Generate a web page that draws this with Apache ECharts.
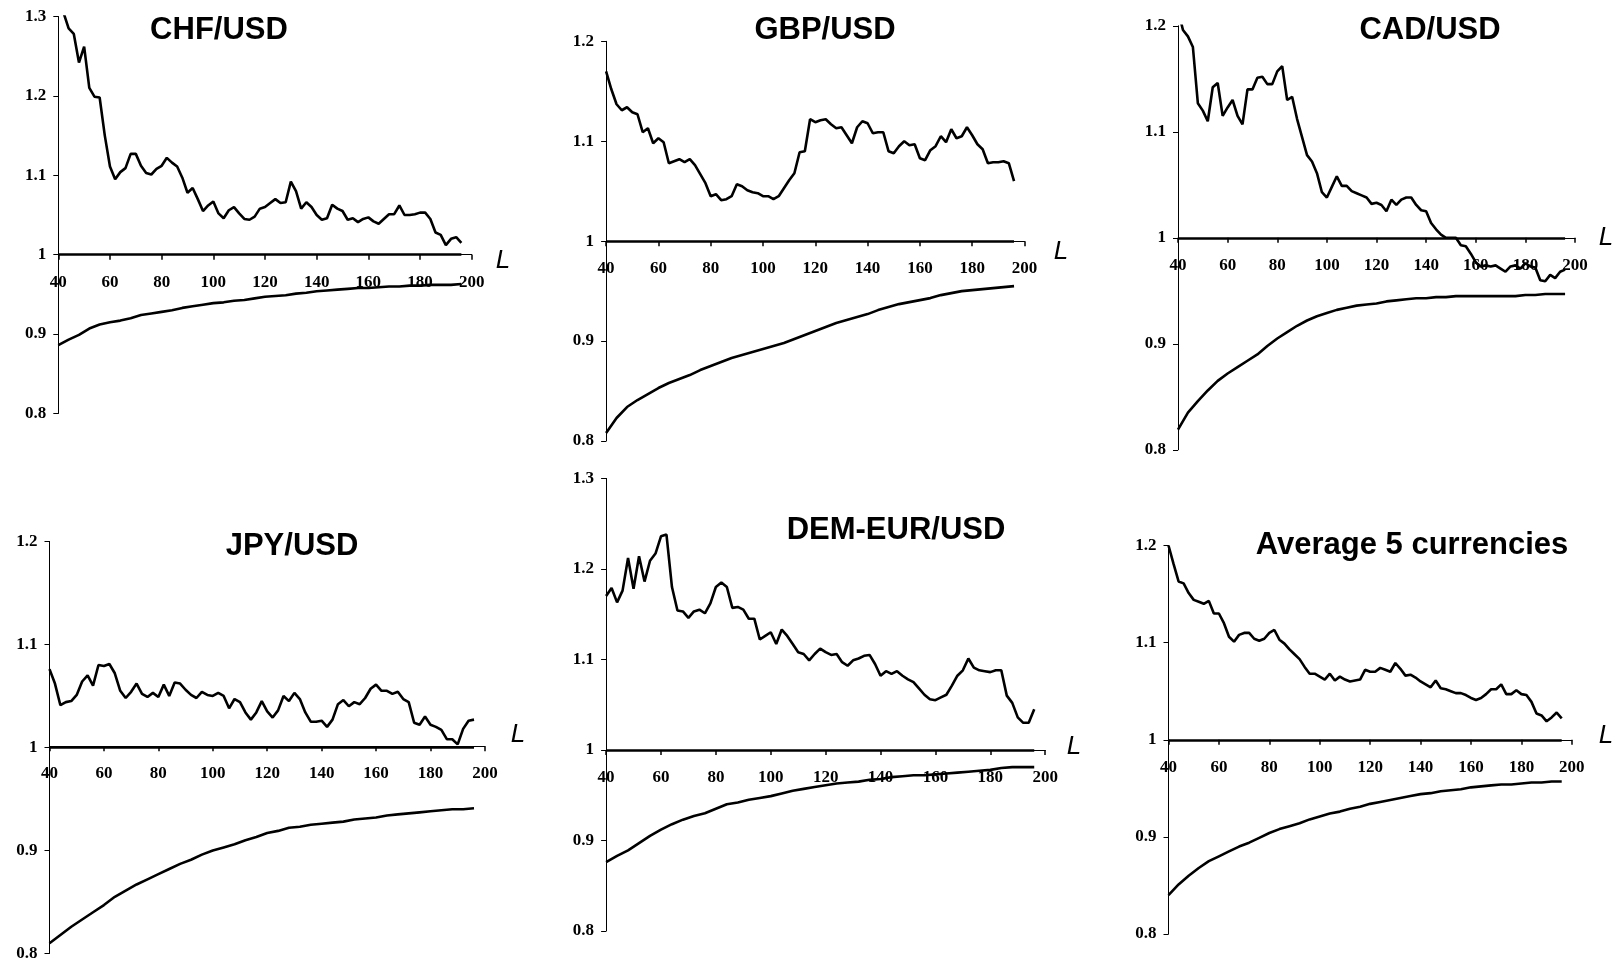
<!DOCTYPE html>
<html>
<head>
<meta charset="utf-8">
<title>Currencies vs L</title>
<script src="https://cdn.jsdelivr.net/npm/echarts@6/dist/echarts.min.js"></script>
<style>
  html, body { margin: 0; padding: 0; background: #fff; }
  #chart { width: 1620px; height: 962px; }
</style>
</head>
<body>
<div id="chart"></div>
<script>
// L values (x axis)
const lagsNoisy = [40, 42, 44, 46, 48, 50, 52, 54, 56, 58, 60, 62, 64, 66, 68, 70, 72, 74, 76, 78,
  80, 82, 84, 86, 88, 90, 92, 94, 96, 98, 100, 102, 104, 106, 108, 110, 112, 114, 116, 118,
  120, 122, 124, 126, 128, 130, 132, 134, 136, 138, 140, 142, 144, 146, 148, 150, 152, 154, 156, 158,
  160, 162, 164, 166, 168, 170, 172, 174, 176, 178, 180, 182, 184, 186, 188, 190, 192, 194, 196];
const lagsSmooth = [40, 44, 48, 52, 56, 60, 64, 68, 72, 76, 80, 84, 88, 92, 96, 100, 104, 108, 112, 116,
  120, 124, 128, 132, 136, 140, 144, 148, 152, 156, 160, 164, 168, 172, 176, 180, 184, 188, 192, 196];
const unityLevel = 1;

const chfUpper = [1.34, 1.305, 1.285, 1.278, 1.242, 1.262, 1.21, 1.199, 1.198, 1.15,
  1.111, 1.095, 1.104, 1.109, 1.127, 1.127, 1.112, 1.103, 1.101, 1.108,
  1.112, 1.122, 1.116, 1.111, 1.097, 1.078, 1.084, 1.07, 1.055, 1.062,
  1.067, 1.052, 1.046, 1.056, 1.06, 1.052, 1.045, 1.044, 1.048, 1.058,
  1.06, 1.065, 1.07, 1.065, 1.066, 1.092, 1.08, 1.058, 1.066, 1.06,
  1.05, 1.044, 1.046, 1.063, 1.058, 1.055, 1.044, 1.046, 1.041, 1.045,
  1.047, 1.042, 1.039, 1.045, 1.051, 1.051, 1.062, 1.05, 1.05, 1.051,
  1.053, 1.053, 1.045, 1.028, 1.025, 1.012, 1.02, 1.022, 1.015];
const chfLower = [0.886, 0.893, 0.899, 0.907, 0.912, 0.915, 0.917, 0.920, 0.924, 0.926,
  0.928, 0.930, 0.933, 0.935, 0.937, 0.939, 0.940, 0.942, 0.943, 0.945,
  0.947, 0.948, 0.949, 0.951, 0.952, 0.954, 0.955, 0.956, 0.957, 0.958,
  0.958, 0.959, 0.960, 0.960, 0.961, 0.961, 0.962, 0.962, 0.962, 0.963];

const gbpUpper = [1.17, 1.152, 1.137, 1.131, 1.134, 1.129, 1.127, 1.109, 1.113, 1.098,
  1.103, 1.099, 1.078, 1.08, 1.082, 1.079, 1.082, 1.076, 1.067, 1.058,
  1.045, 1.047, 1.041, 1.042, 1.045, 1.057, 1.055, 1.051, 1.049, 1.048,
  1.045, 1.045, 1.042, 1.045, 1.053, 1.061, 1.068, 1.089, 1.09, 1.122,
  1.119, 1.121, 1.122, 1.117, 1.113, 1.114, 1.106, 1.098, 1.114, 1.12,
  1.118, 1.108, 1.109, 1.109, 1.09, 1.088, 1.095, 1.1, 1.096, 1.097,
  1.083, 1.081, 1.091, 1.095, 1.105, 1.099, 1.112, 1.103, 1.105, 1.114,
  1.106, 1.097, 1.092, 1.078, 1.079, 1.079, 1.08, 1.078, 1.06];
const gbpLower = [0.808, 0.823, 0.834, 0.841, 0.847, 0.853, 0.858, 0.862, 0.866, 0.871,
  0.875, 0.879, 0.883, 0.886, 0.889, 0.892, 0.895, 0.898, 0.902, 0.906,
  0.910, 0.914, 0.918, 0.921, 0.924, 0.927, 0.931, 0.934, 0.937, 0.939,
  0.941, 0.943, 0.946, 0.948, 0.950, 0.951, 0.952, 0.953, 0.954, 0.955];

const cadUpper = [1.215, 1.196, 1.19, 1.18, 1.127, 1.12, 1.11, 1.142, 1.146, 1.115,
  1.123, 1.13, 1.115, 1.107, 1.14, 1.14, 1.151, 1.152, 1.145, 1.145,
  1.157, 1.162, 1.13, 1.133, 1.112, 1.095, 1.078, 1.072, 1.061, 1.043,
  1.038, 1.048, 1.058, 1.049, 1.049, 1.044, 1.042, 1.04, 1.038, 1.032,
  1.033, 1.031, 1.025, 1.036, 1.031, 1.036, 1.038, 1.038, 1.031, 1.026,
  1.025, 1.014, 1.008, 1.003, 1.0, 1.0, 1.0, 0.993, 0.992, 0.985,
  0.977, 0.973, 0.974, 0.973, 0.974, 0.971, 0.968, 0.973, 0.974, 0.971,
  0.976, 0.973, 0.972, 0.96, 0.959, 0.965, 0.962, 0.968, 0.97];
const cadLower = [0.819, 0.835, 0.846, 0.856, 0.865, 0.872, 0.878, 0.884, 0.890, 0.898,
  0.905, 0.911, 0.917, 0.922, 0.926, 0.929, 0.932, 0.934, 0.936, 0.937,
  0.938, 0.940, 0.941, 0.942, 0.943, 0.943, 0.944, 0.944, 0.945, 0.945,
  0.945, 0.945, 0.945, 0.945, 0.945, 0.946, 0.946, 0.947, 0.947, 0.947];

const jpyUpper = [1.076, 1.062, 1.041, 1.044, 1.045, 1.051, 1.064, 1.07, 1.06, 1.08,
  1.079, 1.081, 1.072, 1.055, 1.048, 1.054, 1.062, 1.052, 1.049, 1.053,
  1.049, 1.061, 1.05, 1.063, 1.062, 1.056, 1.051, 1.048, 1.054, 1.051,
  1.05, 1.053, 1.05, 1.038, 1.047, 1.044, 1.034, 1.027, 1.034, 1.045,
  1.035, 1.029, 1.036, 1.05, 1.045, 1.053, 1.047, 1.034, 1.025, 1.025,
  1.026, 1.02, 1.027, 1.042, 1.046, 1.04, 1.044, 1.042, 1.048, 1.057,
  1.061, 1.055, 1.055, 1.052, 1.054, 1.047, 1.044, 1.024, 1.022, 1.03,
  1.022, 1.02, 1.017, 1.008, 1.008, 1.003, 1.018, 1.026, 1.027];
const jpyLower = [0.810, 0.818, 0.826, 0.833, 0.840, 0.847, 0.855, 0.861, 0.867, 0.872,
  0.877, 0.882, 0.887, 0.891, 0.896, 0.900, 0.903, 0.906, 0.910, 0.913,
  0.917, 0.919, 0.922, 0.923, 0.925, 0.926, 0.927, 0.928, 0.930, 0.931,
  0.932, 0.934, 0.935, 0.936, 0.937, 0.938, 0.939, 0.940, 0.940, 0.941];

const demUpper = [1.17, 1.179, 1.163, 1.176, 1.212, 1.178, 1.214, 1.186, 1.209, 1.217,
  1.236, 1.238, 1.18, 1.154, 1.153, 1.146, 1.153, 1.155, 1.151, 1.162,
  1.18, 1.185, 1.18, 1.157, 1.158, 1.155, 1.145, 1.145, 1.122, 1.126,
  1.13, 1.117, 1.133, 1.126, 1.117, 1.108, 1.106, 1.099, 1.106, 1.112,
  1.108, 1.105, 1.106, 1.097, 1.093, 1.099, 1.101, 1.104, 1.105, 1.095,
  1.082, 1.087, 1.084, 1.087, 1.082, 1.078, 1.075, 1.068, 1.061, 1.056,
  1.055, 1.058, 1.061, 1.071, 1.082, 1.088, 1.101, 1.091, 1.088, 1.087,
  1.086, 1.088, 1.088, 1.06, 1.052, 1.036, 1.03, 1.03, 1.045];
const demLower = [0.876, 0.883, 0.889, 0.897, 0.905, 0.912, 0.918, 0.923, 0.927, 0.930,
  0.935, 0.940, 0.942, 0.945, 0.947, 0.949, 0.952, 0.955, 0.957, 0.959,
  0.961, 0.963, 0.964, 0.965, 0.967, 0.968, 0.970, 0.971, 0.972, 0.972,
  0.973, 0.974, 0.975, 0.976, 0.977, 0.978, 0.980, 0.981, 0.981, 0.981];

const avgUpper = [1.2, 1.181, 1.163, 1.161, 1.151, 1.144, 1.142, 1.14, 1.143, 1.13,
  1.13, 1.12, 1.106, 1.101, 1.108, 1.11, 1.11, 1.104, 1.102, 1.104,
  1.11, 1.113, 1.103, 1.099, 1.093, 1.088, 1.083, 1.075, 1.068, 1.068,
  1.065, 1.062, 1.068, 1.061, 1.065, 1.062, 1.06, 1.061, 1.062, 1.072,
  1.07, 1.07, 1.074, 1.072, 1.07, 1.079, 1.073, 1.066, 1.067, 1.064,
  1.06, 1.057, 1.054, 1.061, 1.053, 1.052, 1.05, 1.048, 1.048, 1.046,
  1.043, 1.041, 1.043, 1.047, 1.052, 1.052, 1.057, 1.047, 1.047, 1.051,
  1.047, 1.046, 1.039, 1.027, 1.025, 1.019, 1.023, 1.028, 1.022];
const avgLower = [0.840, 0.851, 0.860, 0.868, 0.875, 0.880, 0.885, 0.890, 0.894, 0.899,
  0.904, 0.908, 0.911, 0.914, 0.918, 0.921, 0.924, 0.926, 0.929, 0.931,
  0.934, 0.936, 0.938, 0.940, 0.942, 0.944, 0.945, 0.947, 0.948, 0.949,
  0.951, 0.952, 0.953, 0.954, 0.954, 0.955, 0.956, 0.956, 0.957, 0.957];

const panelNames = ["CHF/USD", "GBP/USD", "CAD/USD", "JPY/USD", "DEM-EUR/USD", "Average 5 currencies"];
const upperSeries = [chfUpper, gbpUpper, cadUpper, jpyUpper, demUpper, avgUpper];
const lowerSeries = [chfLower, gbpLower, cadLower, jpyLower, demLower, avgLower];
const yMin = [0.8, 0.8, 0.8, 0.8, 0.8, 0.8];
const yMax = [1.3, 1.2, 1.2, 1.2, 1.3, 1.2];

// layout of each panel (pixels); nameX/nameY = centre of the "L" label
const layout = [
  { left: 58.3, top: 16.5, width: 413.4, height: 397, titleX: 219, titleY: 28, nameX: 503, nameY: 261 },
  { left: 606.1, top: 41.3, width: 418.4, height: 399.7, titleX: 825, titleY: 28, nameX: 1061, nameY: 252 },
  { left: 1178, top: 25.8, width: 397, height: 424, titleX: 1430, titleY: 28, nameX: 1606, nameY: 238 },
  { left: 49.5, top: 541.4, width: 435.4, height: 414.3, titleX: 292, titleY: 544, nameX: 518, nameY: 735 },
  { left: 606.1, top: 478.4, width: 439.1, height: 452.6, titleX: 896, titleY: 528, nameX: 1074, nameY: 747 },
  { left: 1168.5, top: 545.5, width: 403.3, height: 388.5, titleX: 1412, titleY: 543, nameX: 1606, nameY: 736 },
];

const tickFont = {
  fontFamily: "Liberation Serif",
  fontWeight: "bold",
  fontSize: 17,
  color: "#000",
};

function pairs(xs, ys) {
  return xs.map((x, i) => [x, ys[i]]);
}

const chart = echarts.init(document.getElementById("chart"));

const grid = [];
const xAxis = [];
const yAxis = [];
const title = [];
const series = [];
const graphic = [];

layout.forEach((p, i) => {
  grid.push({ left: p.left, top: p.top, width: p.width, height: p.height });
  title.push({
    text: panelNames[i],
    left: p.titleX,
    top: p.titleY - 13,
    textAlign: "center",
    padding: 0,
    textStyle: { fontFamily: "Liberation Sans", fontWeight: "bold", fontSize: 31, color: "#000" },
  });
  graphic.push({
    type: "text",
    x: p.nameX,
    y: p.nameY,
    silent: true,
    style: {
      text: "L",
      fill: "#000",
      font: 'italic 26px "Liberation Sans"',
      textAlign: "center",
      textVerticalAlign: "middle",
      align: "center",
      verticalAlign: "middle",
    },
  });
  // x axis sits on the y = 1 level
  const offset = -(p.height * (1 - yMin[i])) / (yMax[i] - yMin[i]);
  xAxis.push({
    type: "value",
    gridIndex: i,
    min: 40,
    max: 200,
    interval: 20,
    offset: offset,
    axisLine: { show: true, onZero: false, lineStyle: { color: "#000", width: 1.2 } },
    axisTick: { show: true, length: 5, lineStyle: { color: "#000", width: 1.5 } },
    axisLabel: Object.assign({ margin: 19 }, tickFont),
    splitLine: { show: false },
  });
  yAxis.push({
    type: "value",
    gridIndex: i,
    min: yMin[i],
    max: yMax[i],
    interval: 0.1,
    axisLine: { show: true, onZero: false, lineStyle: { color: "#000", width: 1 } },
    axisTick: { show: true, length: 5, lineStyle: { color: "#000", width: 1 } },
    axisLabel: Object.assign({ margin: 12 }, tickFont),
    splitLine: { show: false },
  });
  series.push({
    type: "line",
    xAxisIndex: i,
    yAxisIndex: i,
    data: pairs(lagsNoisy, upperSeries[i]),
    showSymbol: false,
    clip: true,
    lineStyle: { color: "#000", width: 2.6 },
    // thick reference line at level 1 over the data range
    markLine: {
      silent: true,
      symbol: "none",
      label: { show: false },
      lineStyle: { color: "#000", width: 2.6, type: "solid" },
      data: [[
        { coord: [lagsNoisy[0], unityLevel] },
        { coord: [lagsNoisy[lagsNoisy.length - 1], unityLevel] },
      ]],
    },
  });
  series.push({
    type: "line",
    xAxisIndex: i,
    yAxisIndex: i,
    data: pairs(lagsSmooth, lowerSeries[i]),
    showSymbol: false,
    clip: true,
    lineStyle: { color: "#000", width: 2.6 },
  });
});

chart.setOption({
  animation: false,
  backgroundColor: "#fff",
  title: title,
  graphic: graphic,
  grid: grid,
  xAxis: xAxis,
  yAxis: yAxis,
  series: series,
});
</script>
</body>
</html>
